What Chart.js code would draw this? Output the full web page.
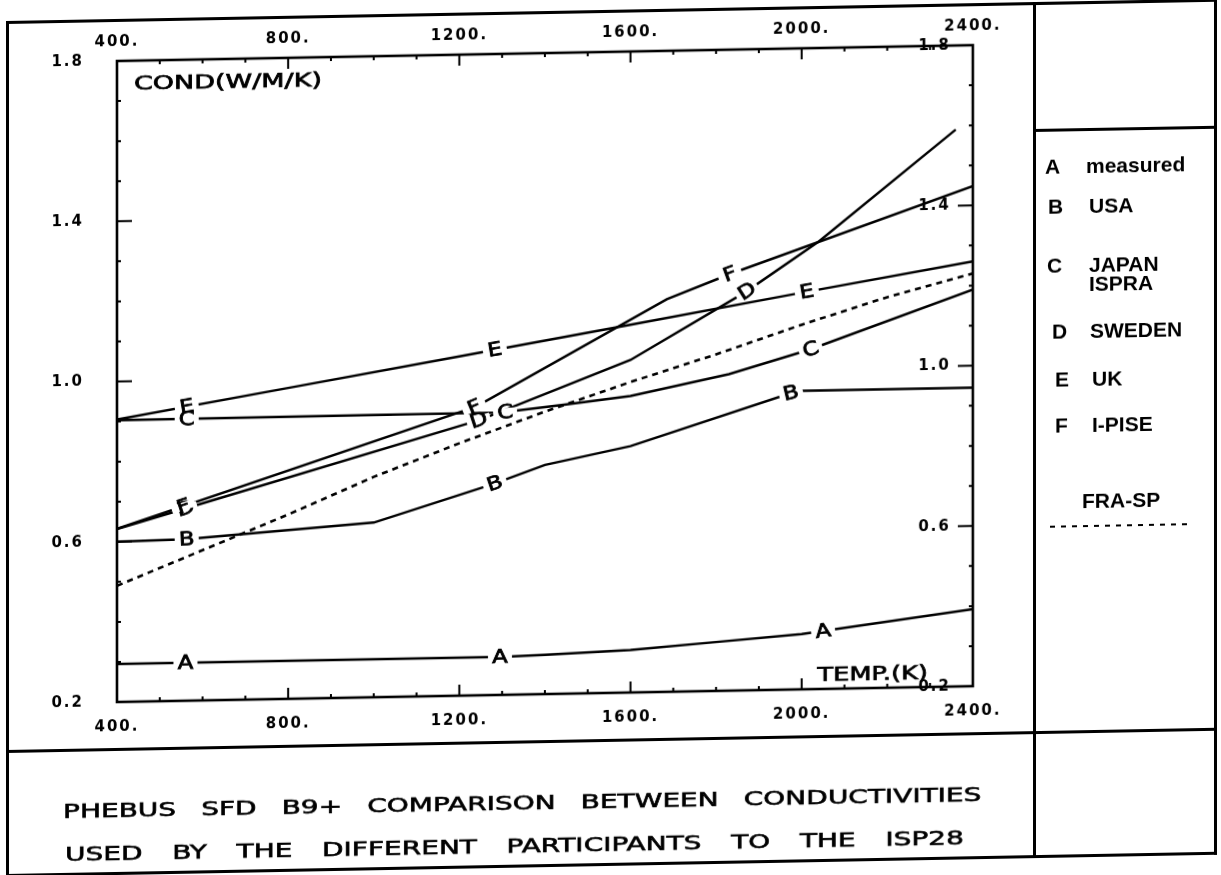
<!DOCTYPE html>
<html>
<head>
<meta charset="utf-8">
<script src="https://cdn.jsdelivr.net/npm/chart.js@4.4.1/dist/chart.umd.min.js"></script>
<style>
  html, body { margin: 0; background: #fff; }
  #page { position: absolute; left: 0; top: 0; width: 1221px; height: 875px; transform: skewY(-1.06deg); transform-origin: 117px 0; font-family: 'DejaVu Sans', sans-serif; color: #000; }
  .rule { position: absolute; background: #000; }
  #plot { position: absolute; left: 0; top: 0; }
  .key { position: absolute; font: bold 21px 'Liberation Sans', Arial, sans-serif; line-height: 19px; white-space: pre-line; }
  .caption { position: absolute; font-size: 20px; line-height: 24px; text-align: justify; text-align-last: justify; transform: scaleX(1.4); transform-origin: 0 0; -webkit-text-stroke: 0.6px #000; }
  #fraKey { position: absolute; height: 2px; background: repeating-linear-gradient(90deg, #000 0 5px, transparent 5px 11px); }
</style>
</head>
<body>
<div id="page">
  <canvas id="plot" width="1221" height="875"></canvas>
  <div class="rule" style="left:6px;top:19px;width:1211px;height:3px"></div>
  <div class="rule" style="left:6px;top:872px;width:1211px;height:3px"></div>
  <div class="rule" style="left:6px;top:19px;width:3px;height:856px"></div>
  <div class="rule" style="left:1214px;top:19px;width:3px;height:856px"></div>
  <div class="rule" style="left:1033px;top:19px;width:3px;height:856px"></div>
  <div class="rule" style="left:6px;top:748px;width:1211px;height:3px"></div>
  <div class="rule" style="left:1033px;top:146px;width:184px;height:3px"></div>
  <div id="legend"></div>
  <div class="caption" id="cap1" style="left:63px;top:798px;width:656px"></div>
  <div class="caption" id="cap2" style="left:65px;top:841px;width:642px"></div>
  <div id="fraKey" style="left:1050px;top:543px;width:140px"></div>
</div>
<script>
const $ = (id) => document.getElementById(id);

// temperatures (K) and conductivities (W/M/K)
const tempA = [400, 1300, 1400, 1600, 1800, 2000, 2400];
const condA = [0.295, 0.295, 0.298, 0.306, 0.322, 0.338, 0.392];
const tempB = [400, 560, 1000, 1280, 1400, 1600, 1990, 2400];
const condB = [0.600, 0.603, 0.636, 0.727, 0.772, 0.815, 0.945, 0.945];
const tempC = [400, 1300, 1450, 1600, 1830, 2020, 2400];
const condC = [0.903, 0.905, 0.922, 0.940, 0.990, 1.048, 1.190];
const tempD = [400, 560, 1250, 1600, 1870, 2040, 2360];
const condD = [0.632, 0.680, 0.888, 1.030, 1.195, 1.317, 1.590];
const tempE = [400, 800, 1200, 1600, 2000, 2400];
const condE = [0.905, 0.976, 1.047, 1.118, 1.190, 1.260];
const tempF = [400, 1240, 1685, 1830, 2400];
const condF = [0.632, 0.921, 1.180, 1.239, 1.448];
const tempFra = [400, 600, 800, 1000, 1200, 1400, 1600, 1800, 2000, 2200, 2400];
const condFra = [0.490, 0.575, 0.660, 0.750, 0.830, 0.905, 0.975, 1.040, 1.110, 1.175, 1.230];

// where the curve letters sit (K)
const markA = [560, 1295, 2050];
const markB = [563, 1283, 1975];
const markC = [563, 1307, 2021];
const markD = [560, 1245, 1872];
const markE = [563, 1283, 2012];
const markF = [555, 1235, 1832];

const seriesCodes = ['A', 'B', 'C', 'D', 'E', 'F'];
const seriesNames = ['measured', 'USA', 'JAPAN\nISPRA', 'SWEDEN', 'UK', 'I-PISE'];
const dashedName = 'FRA-SP';

const xTickValues = [400, 800, 1200, 1600, 2000, 2400];
const xTickLabels = ['400.', '800.', '1200.', '1600.', '2000.', '2400.'];
const yTickValues = [0.2, 0.6, 1.0, 1.4, 1.8];
const yTickLabels = ['0.2', '0.6', '1.0', '1.4', '1.8'];
const xTitle = 'TEMP.(K)';
const yTitle = 'COND(W/M/K)';
const captionLines = [
  'PHEBUS SFD B9+ COMPARISON BETWEEN CONDUCTIVITIES',
  'USED BY THE DIFFERENT PARTICIPANTS TO THE ISP28',
];

const curves = [
  { code: 'A', t: tempA, k: condA, marks: markA },
  { code: 'B', t: tempB, k: condB, marks: markB },
  { code: 'C', t: tempC, k: condC, marks: markC },
  { code: 'D', t: tempD, k: condD, marks: markD },
  { code: 'E', t: tempE, k: condE, marks: markE },
  { code: 'F', t: tempF, k: condF, marks: markF },
];

// legend + caption
const keyLetterX = [1045, 1048, 1047, 1052, 1055, 1055];
const keyTextX = [1086, 1089, 1089, 1090, 1092, 1092];
const keyY = [184, 224, 283, 349, 397, 443];
seriesCodes.forEach((code, i) => {
  const l = document.createElement('div');
  l.className = 'key';
  l.style.left = keyLetterX[i] + 'px';
  l.style.top = (keyY[i] - 10) + 'px';
  l.textContent = code;
  const n = document.createElement('div');
  n.className = 'key';
  n.style.left = keyTextX[i] + 'px';
  n.style.top = (keyY[i] - 10) + 'px';
  n.textContent = seriesNames[i];
  $('legend').append(l, n);
});
const fra = document.createElement('div');
fra.className = 'key';
fra.style.left = '1082px';
fra.style.top = '509px';
fra.textContent = dashedName;
$('legend').append(fra);
$('cap1').textContent = captionLines[0];
$('cap2').textContent = captionLines[1];

function interp(xs, ys, t) {
  for (let i = 1; i < xs.length; i++) {
    if (t <= xs[i]) {
      const f = (t - xs[i - 1]) / (xs[i] - xs[i - 1]);
      return ys[i - 1] + f * (ys[i] - ys[i - 1]);
    }
  }
  return ys[ys.length - 1];
}

// heavier strokes for canvas text, like the plotter pen
function penText(ctx, s, x, y) {
  ctx.fillText(s, x, y);
  ctx.strokeText(s, x, y);
}

const spacing = {
  id: 'spacing',
  beforeDraw(chart) { chart.ctx.letterSpacing = '2px'; },
};

const letters = {
  id: 'letters',
  afterDatasetsDraw(chart) {
    const { ctx, scales: { x, y } } = chart;
    ctx.save();
    ctx.letterSpacing = '0px';
    curves.forEach((c) => {
      c.marks.forEach((t) => {
        const px = x.getPixelForValue(t);
        const py = y.getPixelForValue(interp(c.t, c.k, t));
        const ax = x.getPixelForValue(t - 30), ay = y.getPixelForValue(interp(c.t, c.k, t - 30));
        const bx = x.getPixelForValue(t + 30), by = y.getPixelForValue(interp(c.t, c.k, t + 30));
        ctx.save();
        ctx.translate(px, py);
        ctx.rotate(Math.atan2(by - ay, bx - ax));
        ctx.fillStyle = '#fff';
        ctx.fillRect(-12, -4, 24, 8);
        ctx.fillStyle = '#000';
        ctx.strokeStyle = '#000';
        ctx.lineWidth = 0.8;
        ctx.font = '19px "DejaVu Sans"';
        ctx.textAlign = 'center';
        ctx.textBaseline = 'middle';
        ctx.scale(1.2, 1);
        penText(ctx, c.code, 0, 1);
        ctx.restore();
      });
    });
    ctx.restore();
  },
};

const frame = {
  id: 'frame',
  afterDraw(chart) {
    const { ctx, chartArea: a, scales: { x, y } } = chart;
    ctx.save();
    ctx.strokeStyle = '#000';
    ctx.lineWidth = 2.6;
    ctx.strokeRect(a.left, a.top, a.right - a.left, a.bottom - a.top);
    ctx.lineWidth = 2;
    ctx.beginPath();
    for (let t = 400; t <= 2400; t += 100) {
      const px = x.getPixelForValue(t);
      const len = xTickValues.includes(t) ? 11 : 4;
      ctx.moveTo(px, a.bottom); ctx.lineTo(px, a.bottom - len);
      ctx.moveTo(px, a.top); ctx.lineTo(px, a.top + len);
    }
    for (let k = 2; k <= 18; k++) {
      const py = y.getPixelForValue(k / 10);
      const len = (k - 2) % 4 === 0 ? 15 : 4;
      ctx.moveTo(a.left, py); ctx.lineTo(a.left + len, py);
      ctx.moveTo(a.right, py); ctx.lineTo(a.right - len, py);
    }
    ctx.stroke();

    ctx.fillStyle = '#000';
    ctx.font = 'bold 15px "DejaVu Sans"';
    ctx.letterSpacing = '2px';
    ctx.textAlign = 'right';
    ctx.textBaseline = 'middle';
    yTickValues.forEach((v, i) => ctx.fillText(yTickLabels[i], a.right - 22, y.getPixelForValue(v)));

    ctx.letterSpacing = '0px';
    ctx.font = '19px "DejaVu Sans"';
    ctx.lineWidth = 0.7;
    ctx.textBaseline = 'alphabetic';
    ctx.save();
    ctx.translate(a.left + 17, a.top + 29);
    ctx.scale(1.42, 1);
    ctx.textAlign = 'left';
    penText(ctx, yTitle, 0, 0);
    ctx.restore();
    ctx.save();
    ctx.translate(a.right - 45, a.bottom - 8);
    ctx.scale(1.35, 1);
    ctx.textAlign = 'right';
    penText(ctx, xTitle, 0, 0);
    ctx.restore();
    ctx.restore();
  },
};

const line = (t, k) => t.map((v, i) => ({ x: v, y: k[i] }));
const datasets = curves.map((c) => ({
  label: c.code,
  data: line(c.t, c.k),
  borderColor: '#000',
  borderWidth: 2.5,
  pointRadius: 0,
  tension: 0,
  fill: false,
}));
datasets.push({
  label: dashedName,
  data: line(tempFra, condFra),
  borderColor: '#000',
  borderWidth: 2.6,
  borderDash: [6, 5],
  pointRadius: 0,
  tension: 0,
  fill: false,
});

const tickFont = { family: 'DejaVu Sans', size: 15, weight: 'bold' };
const xAxis = (position, pad) => ({
  type: 'linear',
  position,
  min: 400,
  max: 2400,
  grid: { display: false },
  border: { display: false },
  afterBuildTicks: (s) => { s.ticks = xTickValues.map((value) => ({ value })); },
  afterFit: (s) => { s.height = 30; },
  ticks: { color: '#000', font: tickFont, padding: pad, maxRotation: 0, autoSkip: false,
    callback: (v) => xTickLabels[xTickValues.indexOf(v)] },
});

new Chart($('plot'), {
  type: 'line',
  data: { datasets },
  options: {
    responsive: false,
    animation: false,
    devicePixelRatio: 1,
    layout: { padding: { left: 37, right: 248, top: 31, bottom: 143 } },
    plugins: { legend: { display: false }, tooltip: { enabled: false } },
    scales: {
      x: xAxis('bottom', 8),
      x2: xAxis('top', 2),
      y: {
        type: 'linear',
        position: 'left',
        min: 0.2,
        max: 1.8,
        grid: { display: false },
        border: { display: false },
        afterBuildTicks: (s) => { s.ticks = yTickValues.map((value) => ({ value })); },
        afterFit: (s) => { s.width = 80; },
        ticks: { color: '#000', font: tickFont, padding: 25,
          callback: (v) => yTickLabels[yTickValues.findIndex((u) => Math.abs(u - v) < 1e-6)] },
      },
    },
  },
  plugins: [spacing, letters, frame],
});
</script>
</body>
</html>
